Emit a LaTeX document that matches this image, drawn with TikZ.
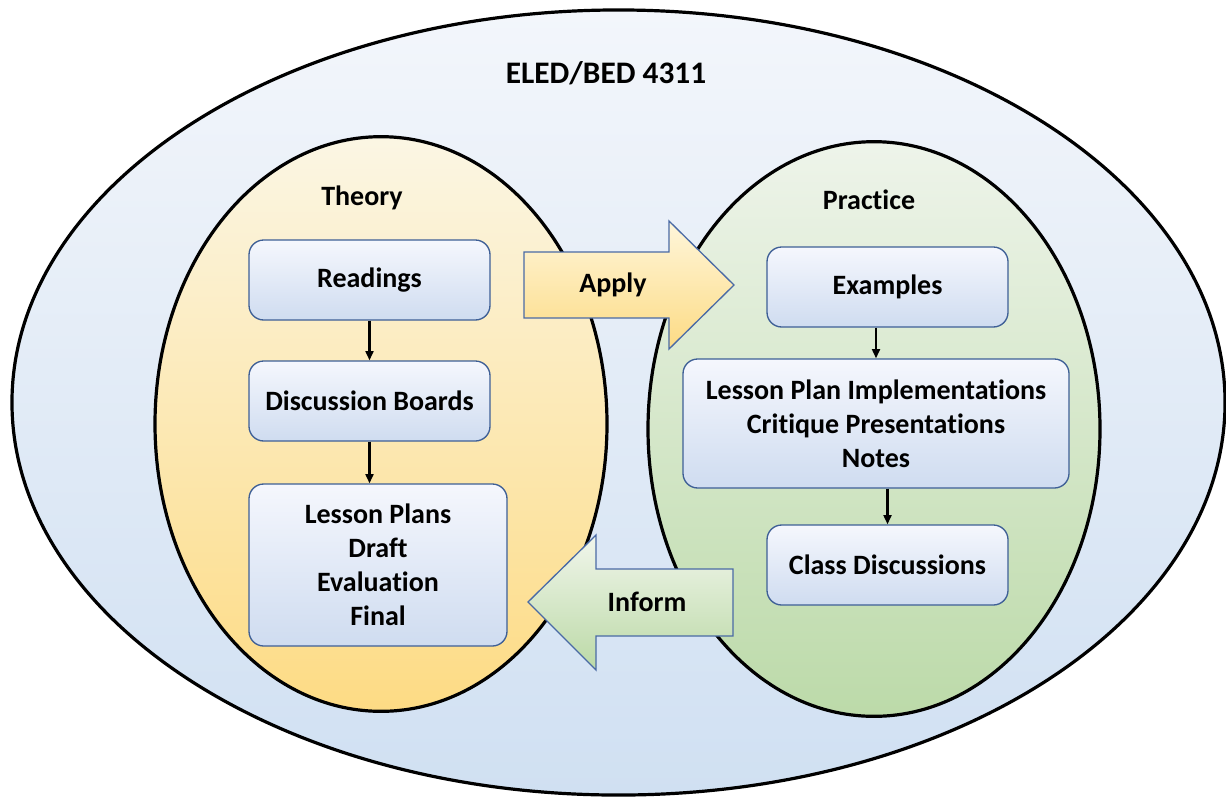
\documentclass[tikz,border=0pt]{standalone}
\usepackage{fontspec}
\setmainfont{Carlito}[Ligatures=NoCommon]
\usetikzlibrary{arrows.meta,positioning}
\definecolor{outerTop}{HTML}{F3F6FB}
\definecolor{outerBot}{HTML}{D0E0F2}
\definecolor{thTop}{HTML}{FBF6E4}
\definecolor{thMid}{HTML}{FDE6A4}
\definecolor{thBot}{HTML}{FDDB84}
\definecolor{prTop}{HTML}{EEF4EA}
\definecolor{prMid}{HTML}{CFE4C2}
\definecolor{prBot}{HTML}{BCDAA9}
\definecolor{boxTop}{HTML}{F5F7FD}
\definecolor{boxBot}{HTML}{CFDCF0}
\definecolor{boxLine}{HTML}{3E5F96}
\definecolor{arrLine}{HTML}{4A6AA5}
\definecolor{apTop}{HTML}{FEF6DB}
\definecolor{apBot}{HTML}{FDDB84}
\definecolor{inTop}{HTML}{F1F6EC}
\definecolor{inBot}{HTML}{BBD9A6}
\tikzset{
  txt/.style={font=\fontsize{21pt}{25.5pt}\selectfont\bfseries, align=center, text=black},
  titletxt/.style={txt, font=\fontsize{23.5pt}{28pt}\selectfont\bfseries},
  stepbox/.style={txt, draw=boxLine, line width=1pt, rounded corners=11pt,
    top color=boxTop, bottom color=boxBot, inner sep=0pt},
  flow/.style={line width=1.6pt, -{Triangle[length=7pt,width=6pt]}},
  ring/.style={draw=black, line width=2.4pt},
  bigarrow/.style={draw=arrLine, line width=1pt, line join=miter}
}
\begin{document}
\begin{tikzpicture}[x=0.75pt,y=-0.75pt]
\useasboundingbox (0,0) rectangle (1226,797);
\clip (0,0) rectangle (1226,797);
% outer ellipse
\shade[ring, top color=outerTop, bottom color=outerBot] (618.5,402.5) ellipse [x radius=454.9pt, y radius=294.4pt];
% theory ellipse
\shade[ring, top color=thTop, middle color=thMid, bottom color=thBot] (381,424) ellipse [x radius=169.5pt, y radius=215.5pt];
% practice ellipse
\shade[ring, top color=prTop, middle color=prMid, bottom color=prBot] (874,429) ellipse [x radius=169.5pt, y radius=215.5pt];
% titles
\node[titletxt] (title) at (606,73) {ELED/BED 4311};
\node[txt] (theory) at (362,198) {Theory};
\node[txt] (practice) at (869,200) {Practice};
% apply arrow
\shade[bigarrow, top color=apTop, bottom color=apBot]
  (524,252) -- (669,252) -- (669,221) -- (734,285) -- (669,349) -- (669,318) -- (524,318) -- cycle;
\node[txt] (apply) at (613,285) {Apply};
% inform arrow
\shade[bigarrow, top color=inTop, bottom color=inBot]
  (733,569) -- (596,569) -- (596,535) -- (528,602) -- (596,670) -- (596,636) -- (733,636) -- cycle;
\node[txt] (inform) at (647,602) {Inform};
% left boxes
\node[stepbox, minimum width=180.75pt, minimum height=60pt] (read) at (369.5,280) {Readings};
\node[stepbox, minimum width=180.75pt, minimum height=60pt] (disc) at (369.5,401) {Discussion Boards};
\node[stepbox, minimum width=193.5pt, minimum height=121.5pt] (lp) at (378,565) {Lesson Plans\\Draft\\Evaluation\\Final};
% right boxes
\node[stepbox, minimum width=180.75pt, minimum height=60pt] (ex) at (887.5,287) {Examples};
\node[stepbox, minimum width=289.5pt, minimum height=96.75pt] (lpi) at (876,423.5) {Lesson Plan Implementations\\Critique Presentations\\Notes};
\node[stepbox, minimum width=180.75pt, minimum height=60pt] (cls) at (887.5,565) {Class Discussions};
% connectors
\draw[flow] (read.south) -- (disc.north);
\draw[flow] (disc.south) -- (disc.south |- lp.north);
\draw[flow] (lpi.north |- ex.south) -- (lpi.north);
\draw[flow] (cls.north |- lpi.south) -- (cls.north);
\end{tikzpicture}
\end{document}
